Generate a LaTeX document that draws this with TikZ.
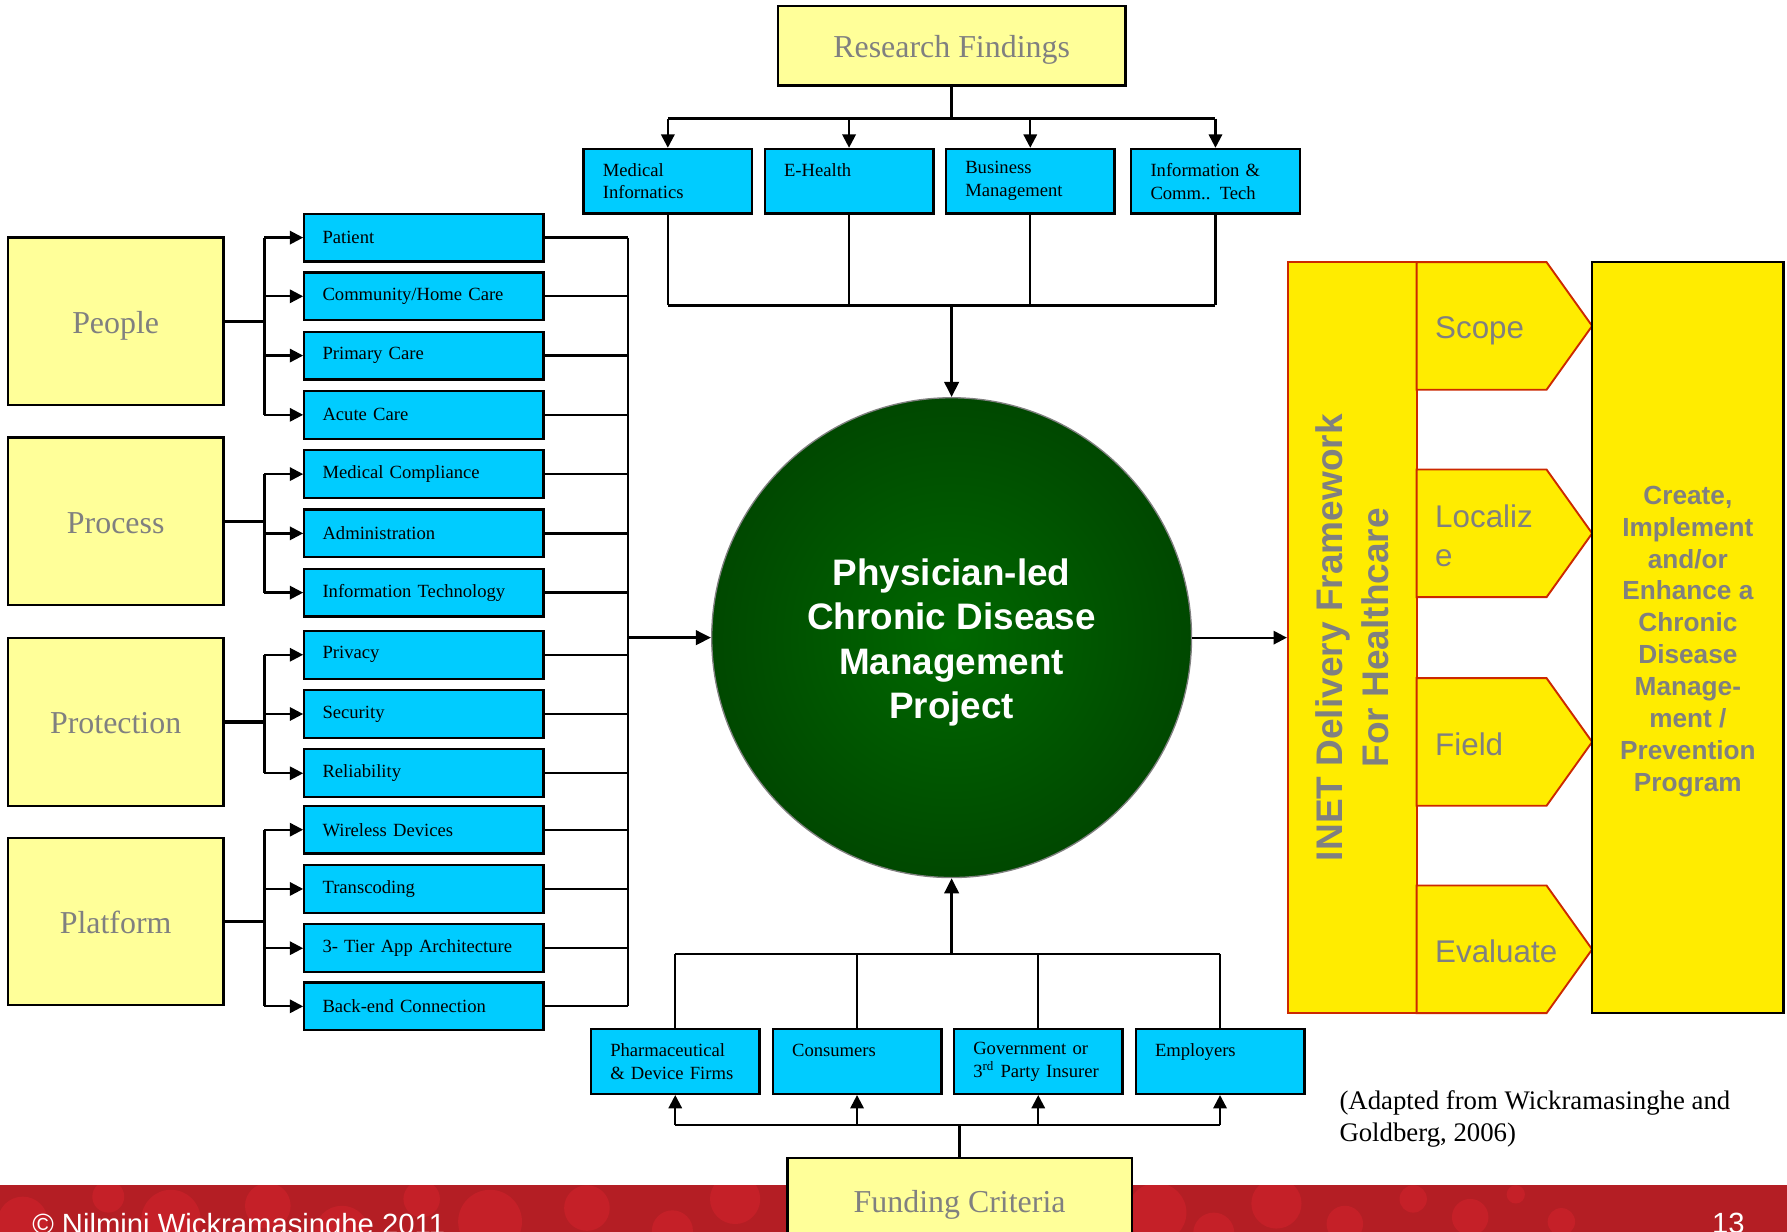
\documentclass[tikz,border=0pt]{standalone}
\usepackage{fontspec}
\setmainfont{Liberation Serif}
\newfontfamily\arialfnt{Liberation Sans}
\usetikzlibrary{arrows.meta}

\definecolor{paleyellow}{RGB}{255,255,153}
\definecolor{skyblue}{RGB}{0,204,255}
\definecolor{inetyellow}{RGB}{255,236,0}
\definecolor{inetred}{RGB}{204,41,0}
\definecolor{labelgray}{RGB}{128,128,128}
\definecolor{ballin}{RGB}{0,104,0}
\definecolor{ballout}{RGB}{0,40,0}
\definecolor{bandred}{RGB}{180,30,36}
\definecolor{bubblered}{RGB}{212,34,44}

\pgfdeclareradialshading{greenball}{\pgfpoint{0bp}{0bp}}{color(0bp)=(ballin); color(50bp)=(ballout)}

\tikzset{
  link/.style={line width=1.2pt},
  mainlink/.style={line width=1.7pt},
  arr/.style={line width=1.2pt,-{Triangle[length=7pt,width=7pt]}},
  mainarr/.style={line width=1.7pt,-{Triangle[length=8pt,width=7.5pt]}},
  catbox/.style={draw,line width=1.2pt,fill=paleyellow,text=labelgray,
    minimum width=113.4pt,minimum height=88.2pt,text height=15.6pt,text depth=3pt,
    font=\fontsize{16.8}{20}\selectfont},
  headbox/.style={catbox,minimum width=183pt,minimum height=42pt},
  itembox/.style={draw,line width=1.2pt,fill=skyblue,minimum width=126pt,
    minimum height=25.2pt,inner xsep=9.6pt,text width=106.8pt,align=left,
    font=\fontsize{9.8}{12}\selectfont},
  srcbox/.style={itembox,minimum width=88.8pt,minimum height=34pt,
    inner xsep=10.2pt,text width=68.4pt},
  inetbox/.style={draw=inetred,line width=1pt,fill=inetyellow},
  goalbox/.style={draw,line width=1.2pt,fill=inetyellow,minimum width=100.8pt,
    minimum height=395.4pt,text=labelgray,align=center,
    font=\arialfnt\bfseries\fontsize{13.8}{16.8}\selectfont},
  chevtxt/.style={anchor=west,inner sep=0pt,text=labelgray,align=left,
    font=\arialfnt\fontsize{16.5}{20.4}\selectfont}
}

\begin{document}
\begin{tikzpicture}[x=0.6pt,y=-0.6pt]
\useasboundingbox (0,0) rectangle (1568,1081);
\clip (0,0) rectangle (1568,1081);
\fill[white] (0,0) rectangle (1568,1081);

% footer band
\begin{scope}
\clip (0,1040) rectangle (1568,1095);
\fill[bandred] (0,1040) rectangle (1568,1095);
\foreach \bx/\by/\br in {20/1072/22, 95/1050/14, 150/1070/26, 235/1058/20, 300/1082/24,
  370/1052/16, 430/1072/28, 515/1060/20, 590/1080/18, 645/1052/22, 1015/1064/26,
  1065/1082/18, 1120/1056/22, 1180/1074/16, 1240/1052/12, 1290/1068/16, 1330/1048/8,
  1370/1072/12}
  \fill[bubblered,opacity=0.55] (\bx,\by) circle[radius=\br];
\end{scope}
\node[anchor=base west,inner sep=0pt,text=white,font=\arialfnt\fontsize{15.4}{18}\selectfont]
  (copyr) at (28,1083) {© Nilmini Wickramasinghe 2011};
\node[anchor=base west,inner sep=0pt,text=white,font=\arialfnt\fontsize{15.4}{18}\selectfont]
  (pageno) at (1502,1082) {13};

% centre
\node[circle,draw=gray,line width=0.7pt,shading=greenball,minimum size=252.6pt,
  text=white,align=center,font=\arialfnt\bfseries\fontsize{19.4}{23.4}\selectfont]
  (proj) at (835,559.5) {\rule{0pt}{19pt}Physician-led\\Chronic Disease\\Management\\Project};

% research findings
\node[headbox] (rf) at (835,40) {Research Findings};
\node[srcbox] (top1) at (586,159) {Medical\\Infornatics};
\node[srcbox] (top2) at (745,159) {E-Health\\~};
\node[srcbox] (top3) at (904,159) {Business\\Management};
\node[srcbox] (top4) at (1066.5,159) {Information \&\\Comm.. Tech};

\draw[mainlink] (rf.south) -- ++(0,28) coordinate (rfj);
\draw[link] (rfj -| top1) -- (rfj -| top4);
\foreach \i in {1,...,4}
  \draw[arr] (rfj -| top\i) -- (top\i.north);
\coordinate (tj) at (835,268);
\foreach \i in {1,...,4}
  \draw[link] (top\i.south) -- (top\i |- tj);
\draw[link] (tj -| top1) -- (tj -| top4);
\draw[mainarr] (tj) -- (proj.north);

% funding criteria
\node[srcbox] (bot1) at (592.5,931.5) {Pharmaceutical\\\& Device Firms};
\node[srcbox] (bot2) at (752,931.5) {Consumers\\~};
\node[srcbox] (bot3) at (911,931.5) {Government or\\3\textsuperscript{rd} Party Insurer};
\node[srcbox] (bot4) at (1070.5,931.5) {Employers\\~};
\node[headbox,minimum width=181.2pt,minimum height=44.4pt] (fc) at (842,1053) {Funding Criteria};

\draw[mainlink] (fc.north) -- ++(0,-28) coordinate (fj);
\draw[link] (fj -| bot1) -- (fj -| bot4);
\foreach \i in {1,...,4}
  \draw[arr] (fj -| bot\i) -- (bot\i.south);
\coordinate (bj) at (835,837);
\foreach \i in {1,...,4}
  \draw[link] (bot\i.north) -- (bot\i |- bj);
\draw[link] (bj -| bot1) -- (bj -| bot4);
\draw[mainarr] (bj) -- (proj.south);

% left side
\node[catbox] (people) at (101.5,282) {People};
\node[catbox] (process) at (101.5,457.5) {Process};
\node[catbox] (protection) at (101.5,633.5) {Protection};
\node[catbox] (platform) at (101.5,808.5) {Platform};

\foreach \k/\y/\t in {1/208.5/Patient, 2/260/{Community/Home Care}, 3/312/Primary Care,
  4/364/Acute Care, 5/416/Medical Compliance, 6/468/Administration,
  7/520/Information Technology, 8/574.5/Privacy, 9/626.5/Security, 10/678.5/Reliability,
  11/728/Wireless Devices, 12/780/Transcoding, 13/832/3- Tier App Architecture,
  14/883/Back-end Connection}
  \node[itembox] (item\k) at (372,\y) {\t};

\foreach \g/\a/\b in {people/1/4, process/5/7, protection/8/10, platform/11/14} {
  \draw[mainlink] (\g.east) -- ++(35,0) coordinate (\g-j);
  \draw[link] (\g-j |- item\a) -- (\g-j |- item\b);
  \foreach \i in {\a,...,\b}
    \draw[arr] (\g-j |- item\i) -- (item\i.west);
}

\coordinate (bus) at (551,559.5);
\foreach \i in {1,...,14}
  \draw[link] (item\i.east) -- (item\i.east -| bus);
\draw[link] (bus |- item1) -- (bus |- item14);
\draw[mainarr] (bus) -- (proj.west);

% right side
\node[inetbox,minimum width=67.8pt,minimum height=395.4pt] (inet) at (1186.5,559.5) {};
\node[rotate=90,text=labelgray,align=center,
  font=\arialfnt\bfseries\fontsize{19.5}{24}\selectfont] (inetlbl) at (inet) {INET Delivery Framework\\For Healthcare};
\draw[arr] (proj.east) -- (proj.east -| inet.west);

\foreach \yt/\lbl/\ys [count=\k] in {230/Scope/-2.4pt, 412/{Localiz\\e}/-1.2pt, 595/Field/-1.2pt, 777/Evaluate/-1.2pt} {
  \draw[inetbox] (1243,\yt) -- (1357,\yt) -- (1397,\yt+56) -- (1357,\yt+112) -- (1243,\yt+112) -- cycle;
  \node[chevtxt,yshift=\ys] (chev\k) at (1259,\yt+56) {\lbl};
}

\node[goalbox] (goal) at (1481,559.5) {\rule{0pt}{13.6pt}Create,\\Implement\\and/or\\Enhance a\\Chronic\\Disease\\Manage-\\ment /\\Prevention\\Program};

\node[anchor=north west,inner sep=0pt,align=left,font=\fontsize{14.1}{16.8}\selectfont]
  (source) at (1175,957) {(Adapted from Wickramasinghe and\\Goldberg, 2006)};
\end{tikzpicture}
\end{document}
